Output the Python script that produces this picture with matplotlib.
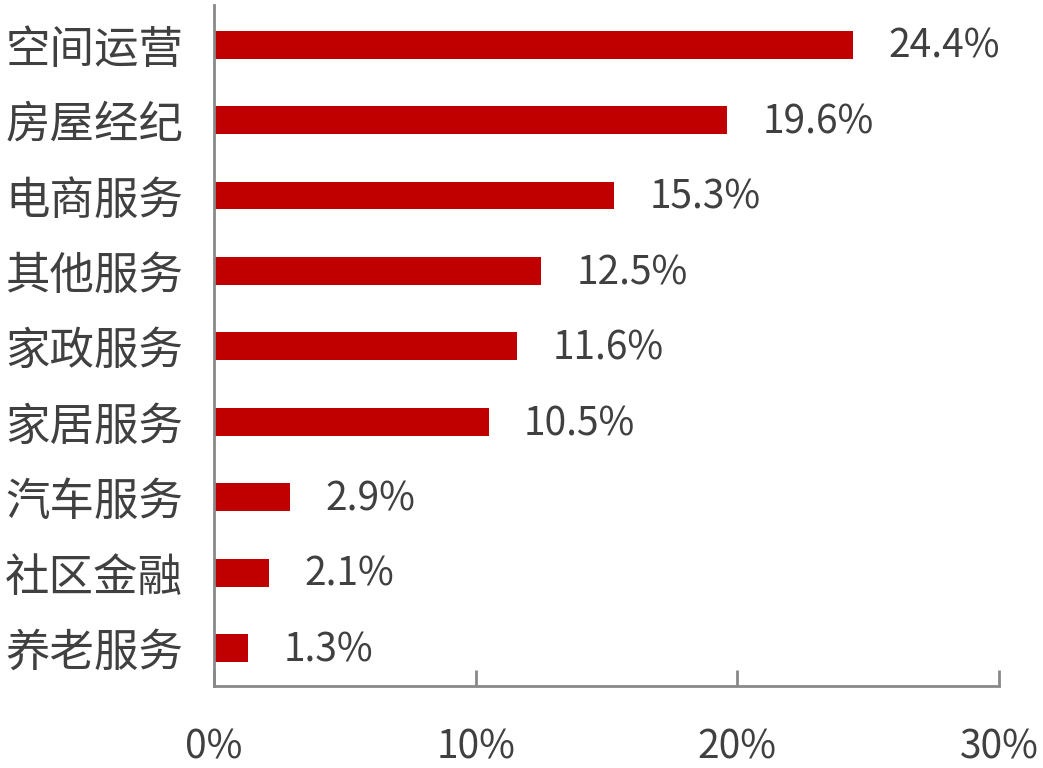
import numpy as np
import matplotlib
matplotlib.use('Agg')
import matplotlib.pyplot as plt

plt.rcParams['font.family'] = ['Noto Sans CJK SC', 'DejaVu Sans']

#data
categories = ['空间运营', '房屋经纪', '电商服务', '其他服务', '家政服务',
              '家居服务', '汽车服务', '社区金融', '养老服务']
values = [24.4, 19.6, 15.3, 12.5, 11.6, 10.5, 2.9, 2.1, 1.3]
xticks = [0, 10, 20, 30]
xticklabels = ['0%', '10%', '20%', '30%']

fig = plt.figure(figsize=(10.43, 7.68), dpi=100)
ax = fig.add_axes([0.205, 0.107, 0.753, 0.886])

y = np.arange(len(categories))
ax.barh(y, values, height=0.37, color='#C00000')

for yi, v in zip(y, values):
    ax.text(v + 1.35, yi + 0.03, '%.1f%%' % v, va='center', ha='left',
            fontsize=28, color='#404040')

ax.set_ylim(8.5, -0.52)
ax.set_xlim(0, 30)
ax.set_yticks(y)
ax.set_yticklabels(categories, fontsize=32, color='#404040')
ax.set_xticks(xticks)
ax.set_xticklabels(xticklabels, fontsize=28, color='#404040')

ax.tick_params(axis='y', length=0, pad=22)
ax.tick_params(axis='x', direction='in', length=11.5, width=2, color='#898989', pad=30)

for s in ['top', 'right']:
    ax.spines[s].set_visible(False)
for s in ['left', 'bottom']:
    ax.spines[s].set_color('#898989')
    ax.spines[s].set_linewidth(2)

plt.savefig('out.png', dpi=100)
